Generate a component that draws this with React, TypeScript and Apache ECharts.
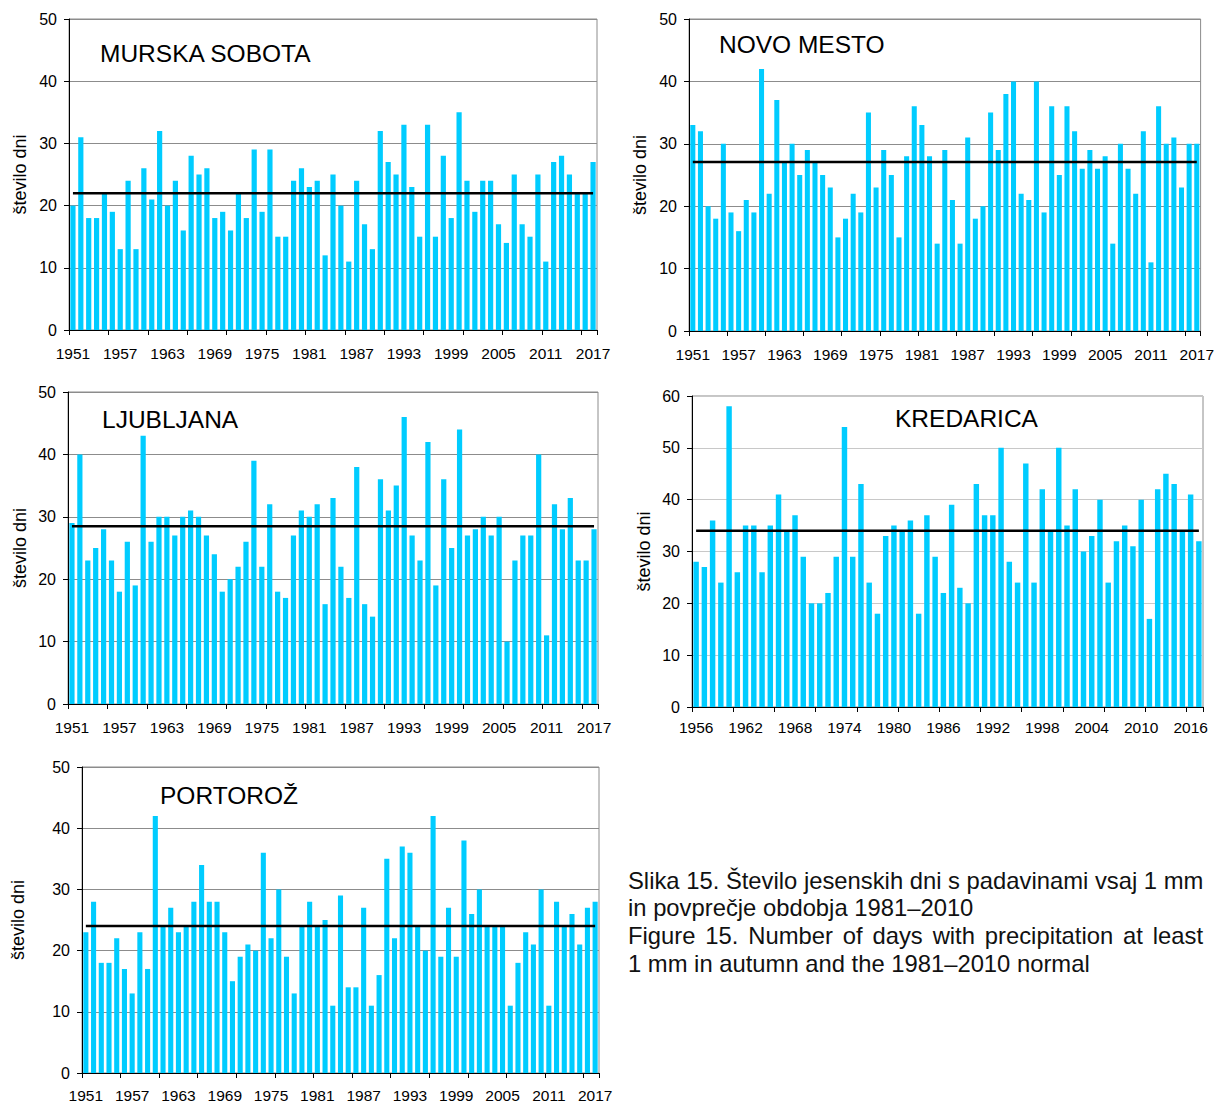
import React, { useEffect, useRef } from "react";
import * as echarts from "echarts";

// ---------- categories ----------
const years1951 = Array.from({ length: 67 }, (_, i) => String(1951 + i));
const years1956 = Array.from({ length: 62 }, (_, i) => String(1956 + i));

// ---------- series values (days with >= 1 mm precipitation in autumn) ----------
const murskaSobota = [20, 31, 18, 18, 22, 19, 13, 24, 13, 26, 21, 32, 20, 24, 16, 28, 25, 26, 18, 19, 16, 22, 18, 29, 19, 29, 15, 15, 24, 26, 23, 24, 12, 25, 20, 11, 24, 17, 13, 32, 27, 25, 33, 23, 15, 33, 15, 28, 18, 35, 24, 19, 24, 24, 17, 14, 25, 17, 15, 25, 11, 27, 28, 25, 22, 22, 27];
const novoMesto = [33, 32, 20, 18, 30, 19, 16, 21, 19, 42, 22, 37, 27, 30, 25, 29, 27, 25, 23, 15, 18, 22, 19, 35, 23, 29, 25, 15, 28, 36, 33, 28, 14, 29, 21, 14, 31, 18, 20, 35, 29, 38, 40, 22, 21, 40, 19, 36, 25, 36, 32, 26, 29, 26, 28, 14, 30, 26, 22, 32, 11, 36, 30, 31, 23, 30, 30];
const ljubljana = [29, 40, 23, 25, 28, 23, 18, 26, 19, 43, 26, 30, 30, 27, 30, 31, 30, 27, 24, 18, 20, 22, 26, 39, 22, 32, 18, 17, 27, 31, 30, 32, 16, 33, 22, 17, 38, 16, 14, 36, 31, 35, 46, 27, 23, 42, 19, 36, 25, 44, 27, 28, 30, 27, 30, 10, 23, 27, 27, 40, 11, 32, 28, 33, 23, 23, 28];
const kredarica = [28, 27, 36, 24, 58, 26, 35, 35, 26, 35, 41, 34, 37, 29, 20, 20, 22, 29, 54, 29, 43, 24, 18, 33, 35, 34, 36, 18, 37, 29, 22, 39, 23, 20, 43, 37, 37, 50, 28, 24, 47, 24, 42, 34, 50, 35, 42, 30, 33, 40, 24, 32, 35, 31, 40, 17, 42, 45, 43, 34, 41, 32];
const portoroz = [23, 28, 18, 18, 22, 17, 13, 23, 17, 42, 24, 27, 23, 24, 28, 34, 28, 28, 23, 15, 19, 21, 20, 36, 22, 30, 19, 13, 24, 28, 24, 25, 11, 29, 14, 14, 27, 11, 16, 35, 22, 37, 36, 24, 20, 42, 19, 27, 19, 38, 26, 30, 24, 24, 24, 11, 18, 23, 21, 30, 11, 28, 24, 26, 21, 27, 28];

// 1981–2010 normals
const normals = { murskaSobota: 22, novoMesto: 27.1, ljubljana: 28.5, kredarica: 34, portoroz: 24 };

// ---------- texts ----------
const stationNames = ["MURSKA SOBOTA", "NOVO MESTO", "LJUBLJANA", "KREDARICA", "PORTOROŽ"];
const yAxisName = "število dni";
const captionLines = [
  { text: "Slika 15. Število jesenskih dni s padavinami vsaj 1 mm", justify: true },
  { text: "in povprečje obdobja 1981–2010", justify: false },
  { text: "Figure 15. Number of days with precipitation at least", justify: true },
  { text: "1 mm in autumn and the 1981–2010 normal", justify: false },
];

const FONT = '"Liberation Sans", Arial, Helvetica, sans-serif';

// ---------- layout ----------
const panels = [
  { name: stationNames[0], cats: years1951, values: murskaSobota, normal: normals.murskaSobota, max: 50, box: { left: 69, top: 19, width: 528, height: 311 }, titlePos: { left: 100, top: 41 }, nameGap: 40, grid: "#8c8c8c", xMargin: 15 },
  { name: stationNames[1], cats: years1951, values: novoMesto, normal: normals.novoMesto, max: 50, box: { left: 689, top: 19, width: 514, height: 312 }, titlePos: { left: 719, top: 32 }, nameGap: 40, grid: "#8c8c8c", xMargin: 15 },
  { name: stationNames[2], cats: years1951, values: ljubljana, normal: normals.ljubljana, max: 50, box: { left: 68, top: 392, width: 530, height: 312 }, titlePos: { left: 102, top: 407 }, nameGap: 39, grid: "#8c8c8c", xMargin: 15 },
  { name: stationNames[3], cats: years1956, values: kredarica, normal: normals.kredarica, max: 60, box: { left: 692, top: 396, width: 511, height: 311 }, titlePos: { left: 895, top: 406 }, nameGap: 39, grid: "#c8c8c8", xMargin: 12 },
  { name: stationNames[4], cats: years1951, values: portoroz, normal: normals.portoroz, max: 50, box: { left: 82, top: 767, width: 517, height: 306 }, titlePos: { left: 160, top: 783 }, nameGap: 55, grid: "#8c8c8c", xMargin: 14 },
];

const captionBox = { left: 628, right: 1203, firstY: 880, lineStep: 27.7, fontSize: 23.8 };

function measure(text: string, size: number) {
  const c = document.createElement("canvas");
  const ctx = c.getContext("2d")!;
  ctx.font = `${size}px "Liberation Sans"`;
  return ctx.measureText(text).width;
}

function buildCaption() {
  const els: any[] = [];
  const W = captionBox.right - captionBox.left;
  captionLines.forEach((ln, i) => {
    const y = captionBox.firstY + i * captionBox.lineStep;
    const base = { fontSize: captionBox.fontSize, fontFamily: FONT, fill: "#111", verticalAlign: "middle", align: "left" };
    const natural = measure(ln.text, captionBox.fontSize);
    if (ln.justify && W - natural > 4) {
      const words = ln.text.split(" ");
      const widths = words.map((w) => measure(w, captionBox.fontSize));
      const total = widths.reduce((a, b) => a + b, 0);
      const gap = (W - total) / (words.length - 1);
      let x = captionBox.left;
      words.forEach((w, k) => {
        els.push({ type: "text", x, y, style: { ...base, text: w } });
        x += widths[k] + gap;
      });
    } else {
      els.push({ type: "text", x: captionBox.left, y, style: { ...base, text: ln.text } });
    }
  });
  return els;
}

function buildOption(): any {
  const grid: any[] = [];
  const xAxis: any[] = [];
  const yAxis: any[] = [];
  const series: any[] = [];
  const title: any[] = [];
  panels.forEach((p, i) => {
    grid.push({ ...p.box, show: true, borderColor: "#8c8c8c", borderWidth: 1, backgroundColor: "transparent", containLabel: false });
    xAxis.push({
      type: "category", gridIndex: i, data: p.cats, boundaryGap: true,
      axisLine: { show: true, onZero: false, lineStyle: { color: "#000", width: 1 } },
      axisTick: { show: true, interval: 4, length: 5, lineStyle: { color: "#000" } },
      axisLabel: { interval: 5, fontSize: 15.5, color: "#000", fontFamily: FONT, margin: p.xMargin },
      splitLine: { show: false },
    });
    yAxis.push({
      type: "value", gridIndex: i, min: 0, max: p.max, interval: 10,
      name: yAxisName, nameLocation: "middle", nameGap: p.nameGap,
      nameTextStyle: { fontSize: 18, color: "#000", fontFamily: FONT },
      axisLine: { show: true, lineStyle: { color: "#000", width: 1 } },
      axisTick: { show: true, length: 5, lineStyle: { color: "#000" } },
      axisLabel: { fontSize: 16, color: "#000", fontFamily: FONT, margin: 12 },
      splitLine: { show: true, lineStyle: { color: p.grid, width: 1 } },
    });
    series.push({
      type: "bar", xAxisIndex: i, yAxisIndex: i, data: p.values,
      barCategoryGap: "34%", itemStyle: { color: "#00CCFF" }, silent: true,
    });
    series.push({
      type: "line", xAxisIndex: i, yAxisIndex: i, data: p.cats.map(() => p.normal),
      symbol: "none", lineStyle: { color: "#000", width: 2.5 }, z: 5, silent: true,
    });
    title.push({
      text: p.name, left: p.titlePos.left, top: p.titlePos.top, padding: 0,
      textStyle: { fontSize: 24.5, fontWeight: "normal", color: "#000", fontFamily: FONT },
    });
  });
  return {
    animation: false,
    backgroundColor: "#fff",
    textStyle: { fontFamily: FONT },
    title, grid, xAxis, yAxis, series,
    graphic: buildCaption(),
  };
}

export default function App() {
  const ref = useRef<HTMLDivElement>(null);
  useEffect(() => {
    if (!ref.current) return;
    const chart = echarts.init(ref.current, undefined, { renderer: "svg" });
    chart.setOption(buildOption());
    return () => chart.dispose();
  }, []);
  return (
    <div
      ref={ref}
      style={{ position: "absolute", left: 0, top: 0, width: 1217, height: 1104, background: "#fff" }}
    />
  );
}
